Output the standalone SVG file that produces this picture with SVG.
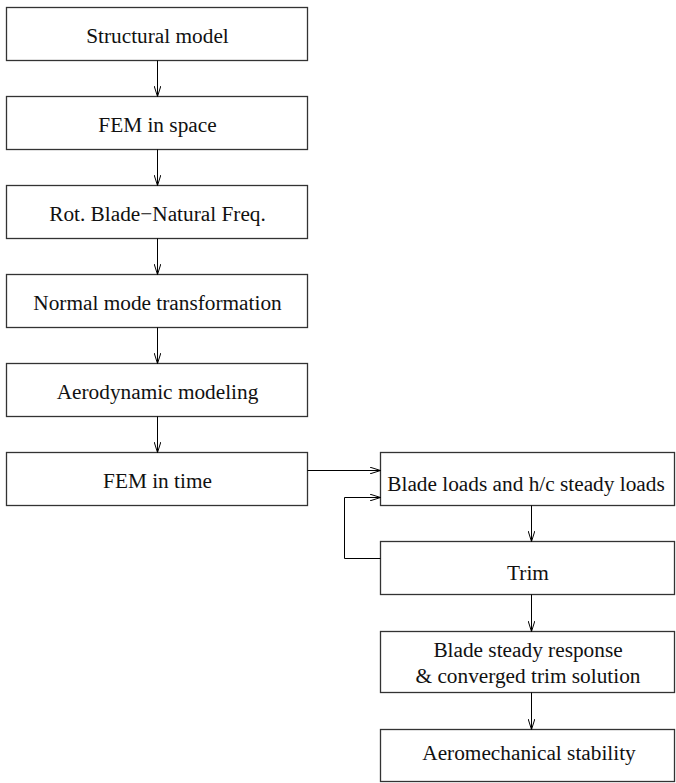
<svg xmlns="http://www.w3.org/2000/svg" width="676" height="783" viewBox="0 0 676 783">
  <defs>
    <marker id="arrow" viewBox="0 0 11 7" refX="11" refY="3.5" markerWidth="11" markerHeight="7" markerUnits="userSpaceOnUse" orient="auto">
      <path d="M0,0 L11,3.5 L0,7" fill="none" stroke="#000" stroke-width="1"/>
    </marker>
  </defs>
  <style>
    .box { fill: #fff; stroke: #333; stroke-width: 1.3; }
    .lbl { font-family: "Liberation Serif", "Times New Roman", serif; font-size: 21.3px; fill: #111; text-anchor: middle; }
    .edge { fill: none; stroke: #000; stroke-width: 1; marker-end: url(#arrow); }
  </style>
  <rect width="676" height="783" fill="#fff"/>

  <g id="structural-model">
    <rect class="box" x="6.5" y="7.5" width="301" height="53"/>
    <text class="lbl" x="157.5" y="43">Structural model</text>
  </g>
  <g id="fem-space">
    <rect class="box" x="6.5" y="96.5" width="301" height="53"/>
    <text class="lbl" x="157.5" y="132">FEM in space</text>
  </g>
  <g id="natural-freq">
    <rect class="box" x="6.5" y="185.5" width="301" height="53"/>
    <text class="lbl" x="157.5" y="221">Rot. Blade−Natural Freq.</text>
  </g>
  <g id="normal-mode">
    <rect class="box" x="6.5" y="274.5" width="301" height="53"/>
    <text class="lbl" x="157.5" y="310">Normal mode transformation</text>
  </g>
  <g id="aero-modeling">
    <rect class="box" x="6.5" y="363.5" width="301" height="53"/>
    <text class="lbl" x="157.5" y="399">Aerodynamic modeling</text>
  </g>
  <g id="fem-time">
    <rect class="box" x="6.5" y="452.5" width="301" height="53"/>
    <text class="lbl" x="157.5" y="488">FEM in time</text>
  </g>
  <g id="blade-loads">
    <rect class="box" x="380.5" y="452.5" width="294" height="53"/>
    <text class="lbl" x="526" y="491">Blade loads and h/c steady loads</text>
  </g>
  <g id="trim">
    <rect class="box" x="380.5" y="541.5" width="294" height="53"/>
    <text class="lbl" x="528" y="580">Trim</text>
  </g>
  <g id="steady-response">
    <rect class="box" x="380.5" y="631.5" width="294" height="61"/>
    <text class="lbl" x="528" y="657">Blade steady response</text>
    <text class="lbl" x="528" y="683">&amp; converged trim solution</text>
  </g>
  <g id="stability">
    <rect class="box" x="380.5" y="729.5" width="294" height="52"/>
    <text class="lbl" x="529" y="760">Aeromechanical stability</text>
  </g>

  <g id="connectors">
    <path class="edge" d="M157.5,60.5 V96.5"/>
    <path class="edge" d="M157.5,149.5 V185.5"/>
    <path class="edge" d="M157.5,238.5 V274.5"/>
    <path class="edge" d="M157.5,327.5 V363.5"/>
    <path class="edge" d="M157.5,416.5 V452.5"/>
    <path class="edge" d="M307.5,470.5 H380.5"/>
    <path class="edge" d="M380.5,558.5 H344.5 V497.5 H380.5"/>
    <path class="edge" d="M531.5,505.5 V541.5"/>
    <path class="edge" d="M531.5,594.5 V631.5"/>
    <path class="edge" d="M531.5,692.5 V729.5"/>
  </g>
</svg>
